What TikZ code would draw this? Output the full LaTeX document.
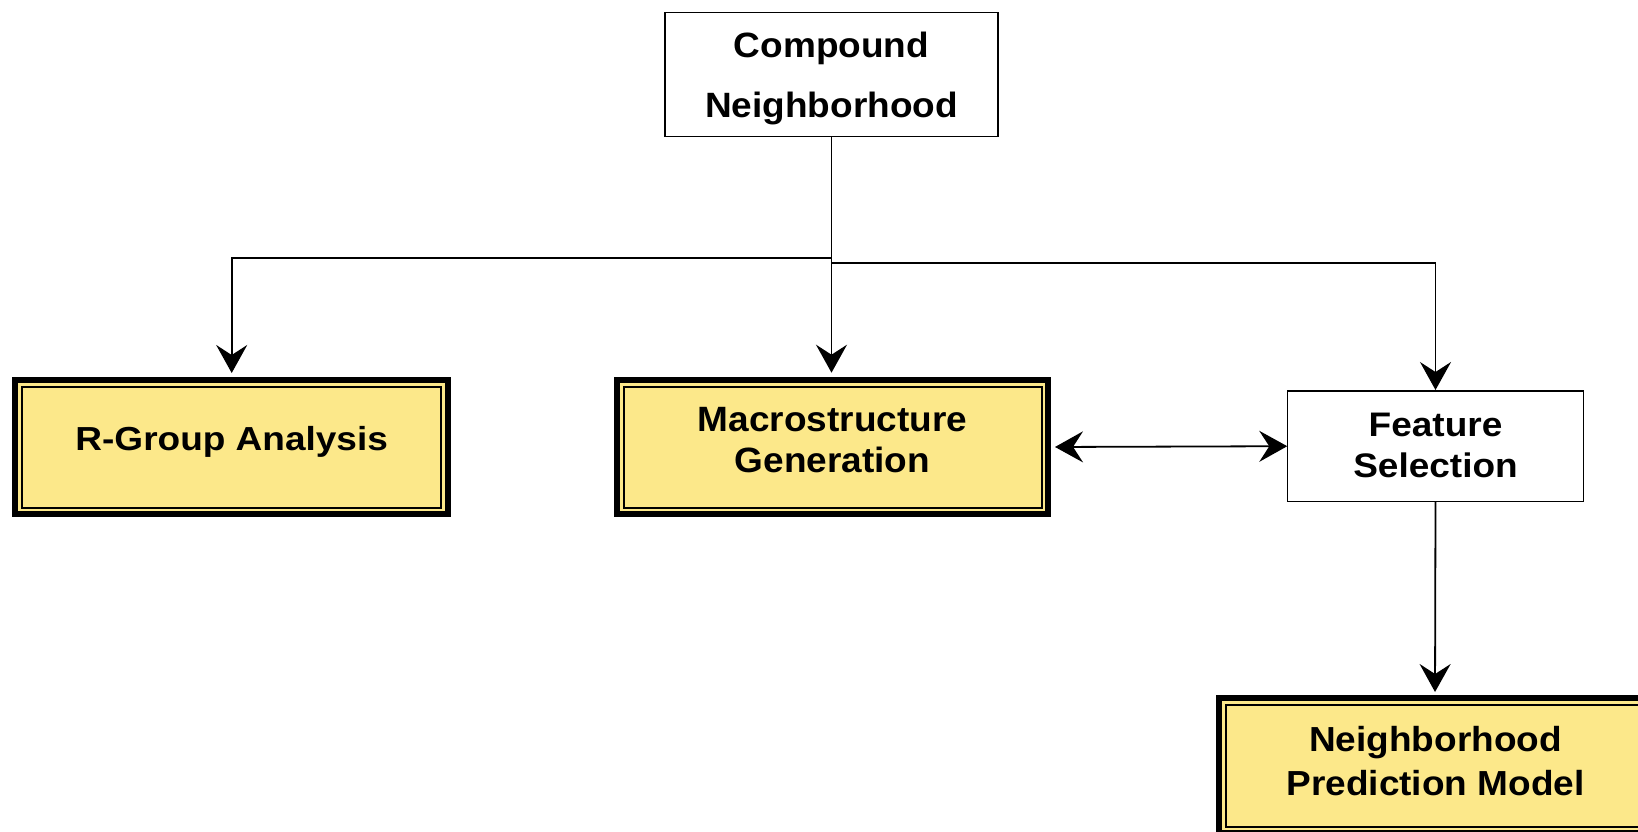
\documentclass[tikz,border=0pt]{standalone}
\usepackage{fontspec}
\setmainfont{Liberation Sans}
\usetikzlibrary{arrows.meta}
\definecolor{boxyellow}{RGB}{252,232,138}
\tikzset{
  >={Stealth[length=28pt,width=31pt,inset=10pt]},
  plainbox/.style={draw=black, line width=1.3pt, fill=white, inner sep=0pt, outer sep=0pt},
  goldbox/.style={draw=black, line width=6pt, fill=boxyellow, inner sep=0pt, outer sep=0pt,
    path picture={\draw[line width=2pt]
      ([shift={(6.5pt,-6.5pt)}]path picture bounding box.north west) rectangle
      ([shift={(-6.5pt,6.5pt)}]path picture bounding box.south east);}},
  txt/.style={anchor=base, inner sep=0pt, font=\fontsize{37}{44}\selectfont\bfseries},
  conn/.style={draw=black, line width=1.8pt},
}
\begin{document}
\begin{tikzpicture}[x=1pt,y=-1pt]
\path[use as bounding box, clip] (0,0) rectangle (1638,831);
\fill[white] (0,0) rectangle (1638,831);
% boxes
\node[plainbox, minimum width=333pt, minimum height=123.5pt] (cn) at (831.5,74.5) {};
\node[goldbox, minimum width=432.5pt, minimum height=134pt] (rg) at (231.7,447) {};
\node[goldbox, minimum width=431pt, minimum height=134pt] (mg) at (832.5,447) {};
\node[plainbox, minimum width=296.5pt, minimum height=110.4pt] (fs) at (1435.5,446.2) {};
\node[goldbox, minimum width=432pt, minimum height=135pt] (np) at (1435,765.5) {};
% texts
\node[txt] (cnt1) at (831.5,57.5) {\scalebox{1}[0.95]{Compound}};
\node[txt] (cnt2) at (831.5,117.3) {\scalebox{1}[0.95]{Neighborhood}};
\node[txt] (rgt) at (231.7,450.7) {\scalebox{1}[0.9]{R-Group Analysis}};
\node[txt] (mgt1) at (832.5,431.3) {\scalebox{1}[0.95]{Macrostructure}};
\node[txt] (mgt2) at (832.5,472.7) {\scalebox{1}[0.95]{Generation}};
\node[txt] (fst1) at (1435.5,436.7) {\scalebox{1}[0.92]{Feature}};
\node[txt] (fst2) at (1435.5,477.3) {\scalebox{1}[0.92]{Selection}};
\node[txt] (npt1) at (1435.5,751.7) {\scalebox{1}[0.94]{Neighborhood}};
\node[txt] (npt2) at (1435.5,795) {\scalebox{1}[0.94]{Prediction Model}};
% connectors
\coordinate (j1) at (831.5,258);
\coordinate (j2) at (831.5,263);
\draw[conn, ->, shorten >=7pt] (cn.south) -- (j1) -| (rg.north);
\draw[conn, ->, shorten >=7.3pt] (cn.south) -- (cn.south |- mg.north);
\draw[conn, ->, shorten >=1pt] (j2) -| (fs.north);
\draw[conn, <->, shorten <=7pt] (mg.east) -- (fs.west);
\draw[conn, ->, shorten >=6pt] (fs.south) -- (np.north);
\end{tikzpicture}
\end{document}
